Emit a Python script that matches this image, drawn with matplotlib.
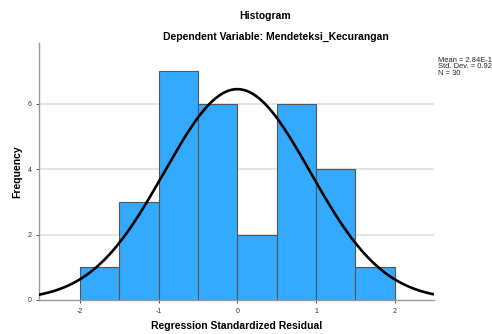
import numpy as np
import matplotlib
matplotlib.use("Agg")
import matplotlib.pyplot as plt

# histogram of regression standardized residuals
bin_edges = [-2.0, -1.5, -1.0, -0.5, 0.0, 0.5, 1.0, 1.5, 2.0]
counts = [1, 3, 7, 6, 2, 6, 4, 1]
mean = 2.84e-16
std_dev = 0.928
n = 30
x_ticks = [-2, -1, 0, 1, 2]
y_ticks = [0, 2, 4, 6]

plt.rcParams['font.family'] = ['Liberation Sans', 'DejaVu Sans']
plt.rcParams['axes.unicode_minus'] = False

fig = plt.figure(figsize=(4.92, 3.34), dpi=100)
ax = fig.add_axes([39 / 492, 1 - 300 / 334, (434 - 39) / 492, (300 - 43) / 334])

# grid lines behind bars
for yv in y_ticks[1:]:
    ax.axhline(yv, color='#e0e0e0', linewidth=1.2, zorder=0)

widths = np.diff(bin_edges)
ax.bar(bin_edges[:-1], counts, width=widths, align='edge',
       color='#33aaff', edgecolor='#555555', linewidth=0.8, zorder=2)

# normal curve scaled to counts
xs = np.linspace(-2.55, 2.55, 400)
bw = widths[0]
ys = n * bw / (std_dev * np.sqrt(2 * np.pi)) * np.exp(-0.5 * ((xs - mean) / std_dev) ** 2)
ax.plot(xs, ys, color='black', linewidth=1.9, zorder=3)

ax.set_xlim(-2.52, 2.5)
ax.set_ylim(0, 7.86)
ax.set_xticks(x_ticks)
ax.set_yticks(y_ticks)
ax.tick_params(axis='both', labelsize=5, colors='#333333', length=2, width=0.6)
for s in ['top', 'right']:
    ax.spines[s].set_visible(False)
for s in ['left', 'bottom']:
    ax.spines[s].set_color('#999999')
    ax.spines[s].set_linewidth(1.0)

fig.text(265 / 492, 1 - 16 / 334, 'Histogram', ha='center', va='center',
         fontsize=7.5, fontweight='bold')
fig.text(276 / 492, 1 - 37 / 334, 'Dependent Variable: Mendeteksi_Kecurangan',
         ha='center', va='center', fontsize=7.5, fontweight='bold')
fig.text(17 / 492, 1 - 172 / 334, 'Frequency', ha='center', va='center',
         rotation=90, fontsize=7.5, fontweight='bold')
fig.text(237 / 492, 1 - 326 / 334, 'Regression Standardized Residual',
         ha='center', va='center', fontsize=7.5, fontweight='bold')

stats = 'Mean = 2.84E-16\nStd. Dev. = 0.928\nN = 30'
fig.text(438 / 492, 1 - 57 / 334, stats, ha='left', va='top',
         fontsize=5.4, linespacing=0.9, color='#222222')

fig.savefig('out.png', dpi=100)
